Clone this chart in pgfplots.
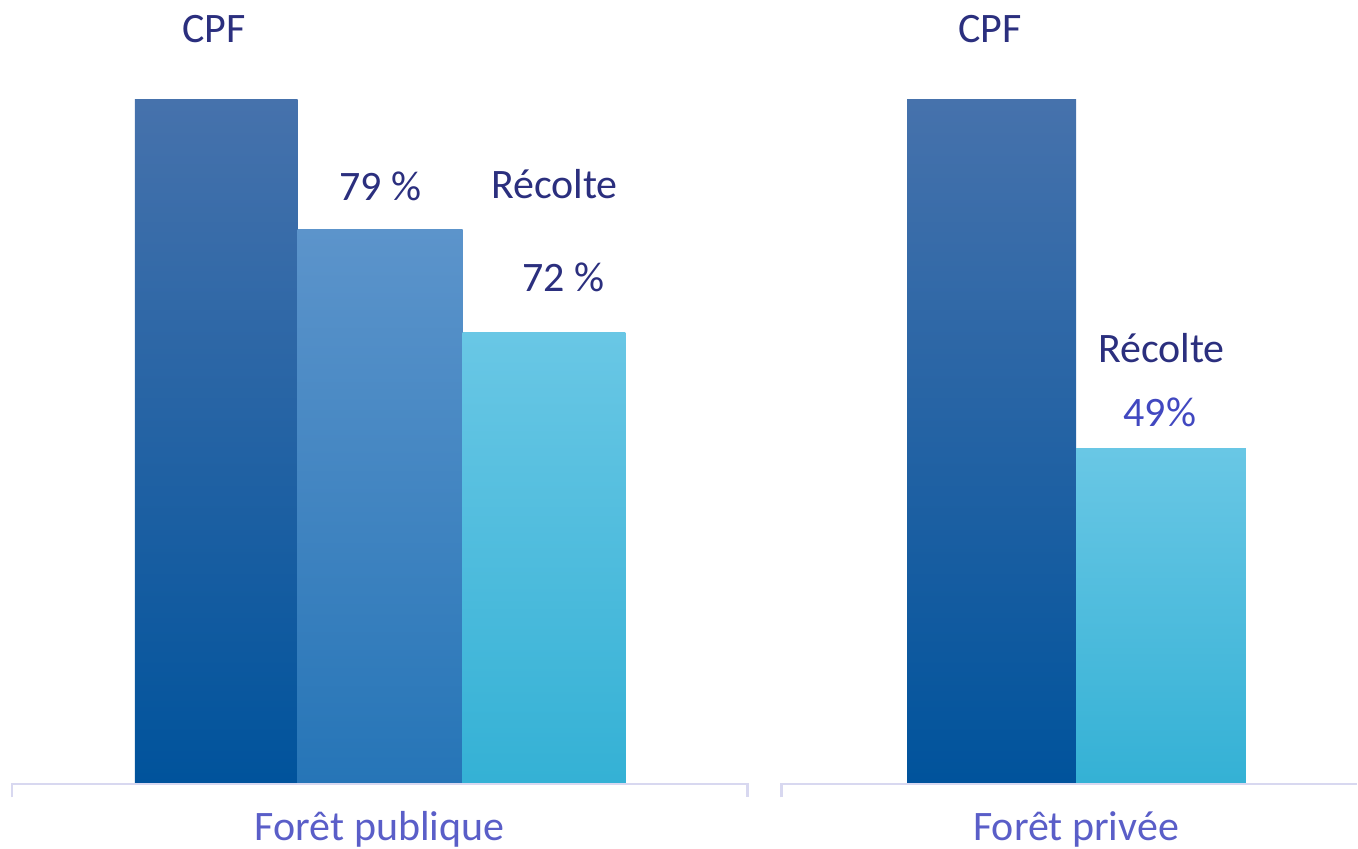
\documentclass[border=0pt]{standalone}
\usepackage{pgfplots}
\pgfplotsset{compat=1.18}
\usepackage{fontspec}
\setmainfont{Carlito}
\definecolor{navy}{HTML}{2B2F7E}
\definecolor{pct}{HTML}{4148C0}
\definecolor{cat}{HTML}{5A5EC8}
\definecolor{axl}{HTML}{D8D8F0}
\definecolor{cpfT}{HTML}{4672AC}
\definecolor{cpfM}{HTML}{1363AC}
\definecolor{cpfB}{HTML}{00539C}
\definecolor{midT}{HTML}{5C94CB}
\definecolor{midB}{HTML}{2675B7}
\definecolor{ltT}{HTML}{69C7E5}
\definecolor{ltB}{HTML}{34B1D5}
\begin{document}
\begin{tikzpicture}[lbl/.style={font=\fontsize{21}{25}\selectfont, anchor=base, inner sep=0pt}]
\begin{axis}[
  x=0.5pt, y=3.42pt,
  xmin=0, xmax=1358,
  ymin=-9.503, ymax=114.62,
  hide axis, clip=false,
  ybar, bar shift=0pt,
]
\path (axis cs:0,-9.503) rectangle (axis cs:1358,114.62);
% Forêt publique
\addplot[draw=none, bar width=163, top color=cpfT, middle color=cpfM, bottom color=cpfB] coordinates {(216.5,100)};
\addplot[draw=none, bar width=165, top color=midT, bottom color=midB] coordinates {(380.5,81)};
\addplot[draw=none, bar width=163, top color=ltT, bottom color=ltB] coordinates {(544.5,66)};
% Forêt privée
\addplot[draw=none, bar width=169, top color=cpfT, middle color=cpfM, bottom color=cpfB] coordinates {(992.5,100)};
\addplot[draw=none, bar width=170, top color=ltT, bottom color=ltB] coordinates {(1162,49)};
% bracket lines
\draw[axl, line width=1.2pt] (axis cs:12,-2.05) -- (axis cs:12,-0.146) -- (axis cs:748,-0.146) -- (axis cs:748,-2.05);
\draw[axl, line width=1.2pt] (axis cs:782,-2.05) -- (axis cs:782,-0.146) -- (axis cs:1358,-0.146);
% labels
\node[lbl, navy] at (axis cs:214,108.33) {CPF};
\node[lbl, navy] at (axis cs:991,108.33) {CPF};
\node[lbl, navy] at (axis cs:381,85.28) {79 \%};
\node[lbl, navy] at (axis cs:555,85.63) {Récolte};
\node[lbl, navy] at (axis cs:563.7,71.98) {72 \%};
\node[lbl, navy] at (axis cs:1162.5,61.55) {Récolte};
\node[lbl, pct] at (axis cs:1161,52.19) {49\%};
\node[lbl, cat] at (axis cs:380,-8.33) {Forêt publique};
\node[lbl, cat] at (axis cs:1077,-8.33) {Forêt privée};
\end{axis}
\end{tikzpicture}
\end{document}
